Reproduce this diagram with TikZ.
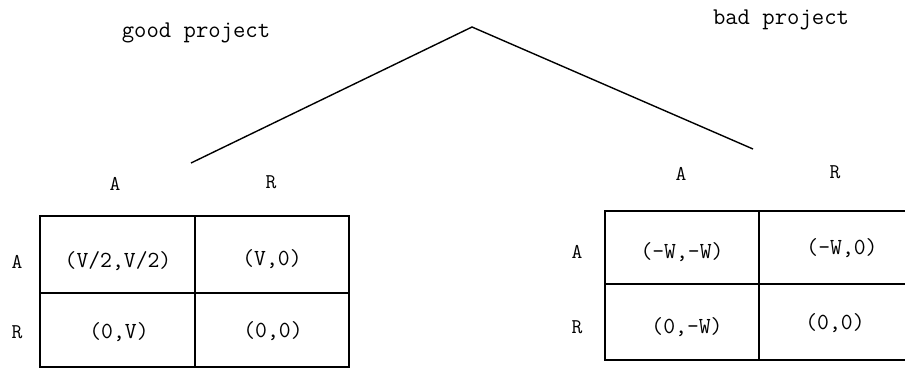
\documentclass[tikz,border=0pt]{standalone}
\usepackage{fontspec}
\begin{document}
\begin{tikzpicture}[x=1pt,y=-1pt,
  txt/.style={font=\ttfamily\fontsize{24}{26}\selectfont\addfontfeature{FakeBold=2},inner sep=0pt},
  lab/.style={font=\ttfamily\fontsize{21}{24}\selectfont\addfontfeature{FakeBold=2},inner sep=0pt},
  cell/.style={font=\ttfamily\fontsize{23}{25}\selectfont\addfontfeature{FakeBold=2},inner sep=0pt},
  grid/.style={line width=1.5pt},
  branch/.style={line width=1.4pt}]
\useasboundingbox (0,0) rectangle (905,370);

% game tree
\coordinate (root) at (472,27);
\coordinate (gl) at (191,163);
\coordinate (gr) at (753,149);
\draw[branch] (gl) -- (root) -- (gr);
\node[txt] (good) at (196,33) {good project};
\node[txt] (bad) at (781,20) {bad project};

% left payoff table
\node[lab] (lcA) at (115,184) {A};
\node[lab] (lcR) at (271,182) {R};
\node[lab] (lrA) at (17,262) {A};
\node[lab] (lrR) at (17,332) {R};
\draw[grid] (40,216) rectangle (349,367);
\draw[grid] (195,216) -- (195,367);
\draw[grid] (40,293) -- (349,293);
\node[cell] (l11) at (118,261) {(V/2,V/2)};
\node[cell] (l12) at (272,259) {(V,0)};
\node[cell] (l21) at (119,332) {(0,V)};
\node[cell] (l22) at (273,331) {(0,0)};

% right payoff table (its right border lies past the edge)
\node[lab] (rcA) at (681,174) {A};
\node[lab] (rcR) at (835,172) {R};
\node[lab] (rrA) at (577,252) {A};
\node[lab] (rrR) at (577,327) {R};
\draw[grid] (907,211) -- (605,211) -- (605,360) -- (907,360);
\draw[grid] (759,211) -- (759,360);
\draw[grid] (605,284) -- (907,284);
\node[cell] (r11) at (682,252) {(-W,-W)};
\node[cell] (r12) at (842,248) {(-W,0)};
\node[cell] (r21) at (687,327) {(0,-W)};
\node[cell] (r22) at (835,323) {(0,0)};
\end{tikzpicture}
\end{document}
